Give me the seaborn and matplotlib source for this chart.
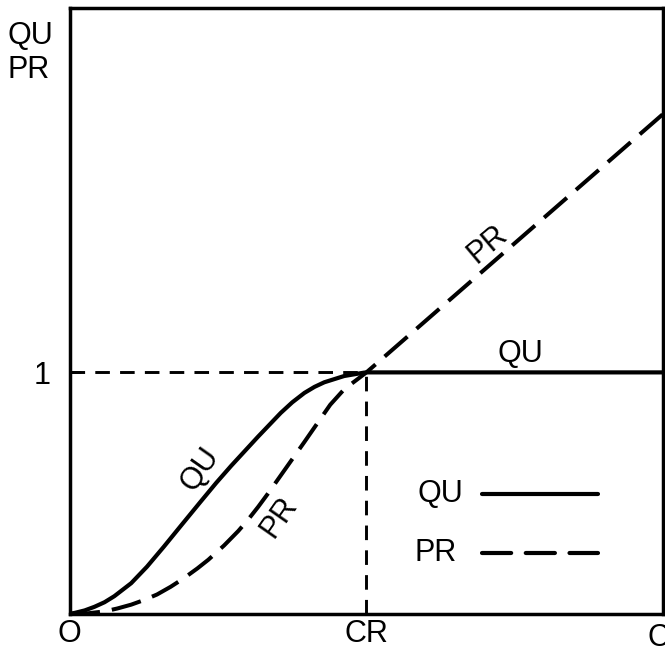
import matplotlib
matplotlib.use("Agg")
import matplotlib.pyplot as plt
import seaborn as sns
import pandas as pd

# Data (x in units of CR)
qu_x = [0.0, 0.017, 0.050, 0.083, 0.117, 0.150, 0.207, 0.260, 0.317, 0.374, 0.440,
        0.494, 0.544, 0.634, 0.711, 0.750, 0.791, 0.825, 0.858, 0.925, 0.992, 1.0, 2.0]
qu_y = [0.0, 0.004, 0.014, 0.029, 0.048, 0.073, 0.127, 0.195, 0.278, 0.364, 0.463,
        0.543, 0.613, 0.733, 0.832, 0.876, 0.915, 0.940, 0.959, 0.985, 0.999, 1.0, 1.0]
pr_x = [0.0, 0.060, 0.117, 0.160, 0.207, 0.250, 0.294, 0.340, 0.384, 0.430, 0.467,
        0.520, 0.568, 0.601, 0.635, 0.668, 0.745, 0.791, 0.835, 0.878, 0.925, 0.968,
        1.0, 2.0]
pr_y = [0.0, 0.002, 0.010, 0.022, 0.038, 0.057, 0.080, 0.112, 0.147, 0.188, 0.224,
        0.283, 0.343, 0.390, 0.443, 0.498, 0.632, 0.712, 0.790, 0.866, 0.930, 0.970,
        1.0, 2.07]
x_ticks = [0, 1, 2]
x_tick_labels = ["O", "CR", ""]
y_ticks = [1]
y_tick_labels = ["1"]

sns.set_theme(style="white")
plt.rcParams["font.family"] = ["Liberation Sans", "DejaVu Sans"]
plt.rcParams.update({"text.color": "black", "xtick.color": "black",
                     "ytick.color": "black", "axes.labelcolor": "black"})
FS = 22

fig = plt.figure(figsize=(6.65, 6.53), dpi=100)
ax = fig.add_axes([0.105, 0.06, 0.892, 0.928])

qu_df = pd.DataFrame({"x": qu_x, "y": qu_y})
pr_df = pd.DataFrame({"x": pr_x, "y": pr_y})

sns.lineplot(data=qu_df, x="x", y="y", ax=ax, color="black", lw=3.0,
             sort=False, estimator=None)
ax.lines[-1].set_solid_joinstyle("round")
sns.lineplot(data=pr_df, x="x", y="y", ax=ax, color="black", lw=2.9,
             sort=False, estimator=None)
ax.lines[-1].set_dashes([7.5, 3])
ax.lines[-1].set_dash_joinstyle("round")

# reference lines at CR
ax.plot([0, 1], [1, 1], color="black", lw=2.1, dashes=[5, 3.5])
ax.plot([1, 1], [0, 1], color="black", lw=2.1, dashes=[5, 3.5])

ax.set_xlim(0, 1.98)
ax.set_ylim(0, 2.51)
ax.set_xticks(x_ticks)
ax.set_xticklabels(x_tick_labels, fontsize=FS)
ax.set_yticks(y_ticks)
ax.set_yticklabels(y_tick_labels, fontsize=FS)
ax.tick_params(axis="y", direction="in", length=8, width=2, pad=14, left=True)
ax.tick_params(axis="x", length=0, pad=4)
ax.set_xlabel("")
ax.set_ylabel("")
for s in ax.spines.values():
    s.set_color("black")
    s.set_linewidth(2.5)

# clipped right-edge label (cut off in the original as well)
fig.text(0.973, 0.0, "CR", fontsize=FS, ha="left", va="bottom")
fig.text(0.012, 0.968, "QU\nPR", fontsize=FS, ha="left", va="top", linespacing=1.2)

# curve labels
ax.text(1.41, 1.53, "PR", fontsize=FS, rotation=40, ha="center", va="center")
ax.text(1.52, 1.075, "QU", fontsize=FS, ha="center", va="center")
ax.text(0.44, 0.60, "QU", fontsize=FS, rotation=55, ha="center", va="center")
ax.text(0.705, 0.40, "PR", fontsize=FS, rotation=55, ha="center", va="center")

# legend drawn manually
ax.text(1.25, 0.498, "QU", fontsize=FS, ha="center", va="center")
ax.text(1.235, 0.253, "PR", fontsize=FS, ha="center", va="center")
ax.plot([1.39, 1.78], [0.498, 0.498], color="black", lw=3.0, solid_capstyle="round")
ax.plot([1.39, 1.78], [0.253, 0.253], color="black", lw=3.0, dashes=[7, 3.5],
        dash_capstyle="round")

fig.savefig("out.png", dpi=100)
